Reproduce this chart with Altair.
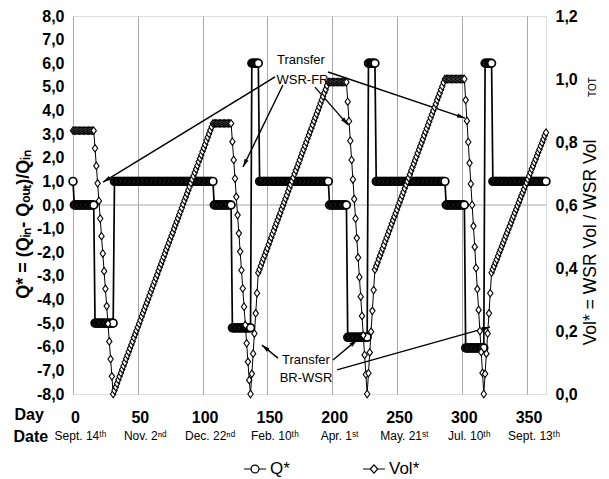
import math
import altair as alt
import pandas as pd

FONT = "Liberation Sans, Arial, sans-serif"

# ---------------- data ----------------
# Q* as runs of (value, number of consecutive days), days 0..365
q_runs = [(1.0, 1), (0.0, 16), (-5.0, 15), (1.0, 77), (0.0, 14), (-5.2, 15), (6.0, 6),
          (1.0, 54), (0.0, 14), (-5.6, 16), (6.0, 6), (1.0, 54), (0.0, 15), (-6.05, 15),
          (6.0, 6), (1.0, 42)]

# Vol* daily values, segment by segment
vol_hold1 = (0.836, 17)
vol_down1 = [0.780, 0.724, 0.669, 0.613, 0.557, 0.501, 0.446, 0.390, 0.334, 0.279, 0.223, 0.167, 0.111, 0.056, 0.000]
vol_up1 = [0.011, 0.022, 0.033, 0.045, 0.056, 0.067, 0.078, 0.089, 0.100, 0.112,
           0.123, 0.134, 0.145, 0.156, 0.167, 0.179, 0.190, 0.201, 0.212, 0.223,
           0.234, 0.246, 0.257, 0.268, 0.279, 0.290, 0.301, 0.312, 0.324, 0.335,
           0.346, 0.357, 0.368, 0.379, 0.391, 0.402, 0.413, 0.424, 0.435, 0.446,
           0.458, 0.469, 0.480, 0.491, 0.502, 0.513, 0.525, 0.536, 0.547, 0.558,
           0.569, 0.580, 0.591, 0.603, 0.614, 0.625, 0.636, 0.647, 0.658, 0.670,
           0.681, 0.692, 0.703, 0.714, 0.725, 0.737, 0.748, 0.759, 0.770, 0.781,
           0.792, 0.804, 0.815, 0.826, 0.837, 0.848, 0.859]
vol_hold2 = (0.859, 14)
vol_down2 = [0.801, 0.743, 0.684, 0.626, 0.568, 0.510, 0.452, 0.393, 0.335, 0.277, 0.219, 0.161, 0.102, 0.044, 0.000]
vol_fill2 = [0.064, 0.128, 0.192, 0.256, 0.320, 0.385]
vol_up2 = [0.396, 0.407, 0.419, 0.430, 0.441, 0.452, 0.463, 0.475, 0.486, 0.497,
           0.508, 0.519, 0.531, 0.542, 0.553, 0.564, 0.575, 0.587, 0.598, 0.609,
           0.620, 0.631, 0.643, 0.654, 0.665, 0.676, 0.687, 0.699, 0.710, 0.721,
           0.732, 0.743, 0.755, 0.766, 0.777, 0.788, 0.799, 0.811, 0.822, 0.833,
           0.844, 0.855, 0.867, 0.878, 0.889, 0.900, 0.911, 0.923, 0.934, 0.945,
           0.956, 0.967, 0.979, 0.990]
vol_hold3 = (0.990, 14)
vol_down3 = [0.928, 0.866, 0.804, 0.743, 0.681, 0.619, 0.557, 0.495, 0.433, 0.371, 0.309, 0.248, 0.186, 0.124, 0.062, 0.000]
vol_fill3 = [0.066, 0.132, 0.198, 0.264, 0.330, 0.395]
vol_up3 = [0.406, 0.417, 0.429, 0.440, 0.451, 0.462, 0.473, 0.485, 0.496, 0.507,
           0.518, 0.529, 0.541, 0.552, 0.563, 0.574, 0.585, 0.597, 0.608, 0.619,
           0.630, 0.641, 0.653, 0.664, 0.675, 0.686, 0.697, 0.709, 0.720, 0.731,
           0.742, 0.753, 0.765, 0.776, 0.787, 0.798, 0.809, 0.821, 0.832, 0.843,
           0.854, 0.865, 0.877, 0.888, 0.899, 0.910, 0.921, 0.933, 0.944, 0.955,
           0.966, 0.977, 0.989, 1.000]
vol_hold4 = (1.000, 15)
vol_down4 = [0.933, 0.867, 0.800, 0.733, 0.667, 0.600, 0.533, 0.467, 0.400, 0.333, 0.267, 0.200, 0.133, 0.067, 0.000]
vol_fill4 = [0.064, 0.128, 0.192, 0.256, 0.320, 0.385]
vol_up4 = [0.396, 0.406, 0.417, 0.427, 0.438, 0.449, 0.459, 0.470, 0.480, 0.491,
           0.502, 0.512, 0.523, 0.533, 0.544, 0.555, 0.565, 0.576, 0.586, 0.597,
           0.608, 0.618, 0.629, 0.639, 0.650, 0.661, 0.671, 0.682, 0.692, 0.703,
           0.714, 0.724, 0.735, 0.745, 0.756, 0.767, 0.777, 0.788, 0.798, 0.809,
           0.820, 0.830]

# axis ticks / labels
day_ticks = [0, 50, 100, 150, 200, 250, 300, 350]
date_labels = ["Sept. 14\u1d57\u02b0", "Nov. 2\u207f\u1d48", "Dec. 22\u207f\u1d48", "Feb. 10\u1d57\u02b0",
               "Apr. 1\u02e2\u1d57", "May. 21\u02e2\u1d57", "Jul. 10\u1d57\u02b0", "Sept. 13\u1d57\u02b0"]
q_ticks = [-8, -7, -6, -5, -4, -3, -2, -1, 0, 1, 2, 3, 4, 5, 6, 7, 8]
v_ticks = [0.0, 0.2, 0.4, 0.6, 0.8, 1.0, 1.2]

# annotations (day, Q*) -- text and arrows
ann_text = ["Transfer", "WSR-FR", "Transfer", "BR-WSR"]
ann_day = [175.9, 177.1, 179.7, 179.8]
ann_q = [6.14, 5.29, -6.56, -7.32]
arr_day1 = [155.9, 162.0, 186.7, 196.8, 158.2, 200.6, 203.7]
arr_q1 = [5.42, 5.08, 4.99, 5.63, -6.48, -6.56, -6.98]
arr_day2 = [23.2, 131.2, 212.2, 302.5, 145.8, 219.2, 321.8]
arr_q2 = [0.97, 1.61, 3.39, 3.68, -5.93, -5.71, -5.16]

legend_names = ["Q*", "Vol*"]

# ---------------- build tables ----------------
q_vals = []
for v, n in q_runs:
    q_vals += [v] * n

vol_vals = ([vol_hold1[0]] * vol_hold1[1] + vol_down1 + vol_up1 +
            [vol_hold2[0]] * vol_hold2[1] + vol_down2 + vol_fill2 + vol_up2 +
            [vol_hold3[0]] * vol_hold3[1] + vol_down3 + vol_fill3 + vol_up3 +
            [vol_hold4[0]] * vol_hold4[1] + vol_down4 + vol_fill4 + vol_up4)
days = list(range(len(q_vals)))
assert len(q_vals) == len(vol_vals) == 366

df = pd.DataFrame({"day": days, "q": q_vals, "vol": vol_vals})

W, H = 473, 378
sx = W / 365.0
sy = H / 16.0

ang = []
for a, b, c, d in zip(arr_day1, arr_q1, arr_day2, arr_q2):
    dxs = (c - a) * sx
    dys = -(d - b) * sy
    ang.append(math.degrees(math.atan2(dxs, -dys)) % 360)

arrows = pd.DataFrame({"day": arr_day1, "q": arr_q1, "day2": arr_day2, "q2": arr_q2})
heads = pd.DataFrame({"day": arr_day2, "q": arr_q2, "angle": ang})
texts = pd.DataFrame({"day": ann_day, "q": ann_q, "label": ann_text})

# ---------------- scales / axes ----------------
x_scale = alt.Scale(domain=[0, 365], nice=False, zero=False)
q_scale = alt.Scale(domain=[-8, 8], nice=False)
v_scale = alt.Scale(domain=[0, 1.2], nice=False)

x_axis = alt.Axis(orient="bottom", values=day_ticks, format="d", grid=True, gridColor="#a8a8a8",
                  gridWidth=1, ticks=False, domain=False, labelPadding=15, labelFontSize=16,
                  labelFontWeight="bold", labelColor="black", labelOverlap=False, labelFlush=False,
                  labelOffset=2,
                  title="Day", titleAngle=0, titleX=-59, titleY=25, titleAlign="left",
                  titleBaseline="alphabetic", titleFontSize=16, titleFontWeight="bold", titleColor="black")

q_label = "(datum.value < 0 ? '-' : '') + replace(format(abs(datum.value), '.1f'), '.', ',')"
q_axis = alt.Axis(orient="left", values=q_ticks, labelExpr=q_label, grid=False, ticks=False, domain=False,
                  labelPadding=9, labelFontSize=16, labelFontWeight="bold", labelColor="black",
                  labelOverlap=False,
                  title="Q* = (Q\u1d62\u2099- Q\u2092\u1d64\u209c)/Q\u1d62\u2099", titleFontSize=18,
                  titleFontWeight="bold", titleColor="black", titleX=-41, titleY=208,
                  titleAngle=270, titleAlign="center", titleBaseline="bottom")

v_label = "replace(format(datum.value, '.1f'), '.', ',')"
v_axis = alt.Axis(orient="right", values=v_ticks, labelExpr=v_label, grid=False, ticks=False, domain=False,
                  labelPadding=9, labelFontSize=16, labelFontWeight="bold", labelColor="black",
                  labelOverlap=False,
                  title="Vol* = WSR Vol / WSR Vol", titleFontSize=17.5, titleFontWeight="normal",
                  titleColor="black", titleX=53, titleY=226, titleAngle=270, titleAlign="center",
                  titleBaseline="bottom")

date_expr = "''"
for t, lab in reversed(list(zip(day_ticks, date_labels))):
    date_expr = f"datum.value == {t} ? '{lab}' : ({date_expr})"

date_axis = alt.Axis(orient="bottom", values=day_ticks, labelExpr=date_expr, grid=False, ticks=False,
                     domain=False, labelPadding=36, labelFontSize=12, labelColor="black",
                     labelOverlap=False, labelBound=False, labelFlush=False, labelOffset=7,
                     title="Date", titleAngle=0, titleX=-60, titleY=47, titleAlign="left",
                     titleBaseline="alphabetic", titleFontSize=16, titleFontWeight="bold", titleColor="black")

X = alt.X("day:Q", scale=x_scale, axis=x_axis)
YQ = alt.Y("q:Q", scale=q_scale, axis=q_axis)
YV = alt.Y("vol:Q", scale=v_scale, axis=v_axis)

zero_rule = alt.Chart(pd.DataFrame({"q": [0.0]})).mark_rule(color="#a8a8a8", strokeWidth=1).encode(y=YQ)
q_line = alt.Chart(df).mark_line(color="black", strokeWidth=1.7).encode(x=X, y=YQ)
q_pts = alt.Chart(df).mark_point(shape="circle", filled=True, fill="white", stroke="black",
                                 strokeWidth=1.7, size=60, opacity=1).encode(x=X, y=YQ)
arr_rules = alt.Chart(arrows).mark_rule(color="black", strokeWidth=1.4).encode(
    x=X, y=YQ, x2="day2:Q", y2="q2:Q")
arr_heads = alt.Chart(heads).mark_point(shape="M0,0L-0.55,2L0.55,2Z", filled=True, color="black",
                                        size=64, opacity=1).encode(
    x=X, y=YQ, angle=alt.Angle("angle:Q", scale=None))
ann = alt.Chart(texts).mark_text(fontSize=13, color="black", font=FONT).encode(x=X, y=YQ, text="label:N")

v_line = alt.Chart(df).mark_line(color="black", strokeWidth=1).encode(x=X, y=YV)
v_pts = alt.Chart(df).mark_point(shape="M0,-1L0.72,0L0,1L-0.72,0Z", filled=True, fill="white",
                                 stroke="black", strokeWidth=1.1, size=55, opacity=1).encode(x=X, y=YV)

q_group = alt.layer(zero_rule, q_line, q_pts, arr_rules, arr_heads, ann)
v_group = alt.layer(v_line, v_pts)
main = alt.layer(q_group, v_group).resolve_scale(y="independent")

date_layer = alt.Chart(pd.DataFrame({"day": day_ticks})).mark_point(opacity=0).encode(
    x=alt.X("day:Q", scale=x_scale, axis=date_axis), y=alt.value(0))

q_sym = "M-1,0L-0.36,0M0.36,0L1,0M-0.36,0A0.36,0.36,0,1,1,0.36,0A0.36,0.36,0,1,1,-0.36,0"
v_sym = "M-1,0L-0.34,0M0.34,0L1,0M-0.34,0L0,-0.38L0.34,0L0,0.38Z"
legend_layer = alt.Chart(pd.DataFrame({"series": legend_names})).mark_point(
    filled=False, color="black", strokeWidth=1.2, size=484, clip=True).encode(
    x=alt.value(-300), y=alt.value(-300),
    shape=alt.Shape("series:N", scale=alt.Scale(domain=legend_names, range=[q_sym, v_sym]),
                    legend=alt.Legend(orient="none", legendX=170, legendY=441, direction="horizontal",
                                      title=None, symbolSize=484, symbolStrokeColor="black",
                                      symbolStrokeWidth=1.2, symbolOpacity=1, labelFontSize=17,
                                      labelFont=FONT, labelColor="black", labelOffset=3,
                                      columnPadding=70, padding=0)))

tot_layer = alt.Chart(pd.DataFrame({"t": ["TOT"]})).mark_text(
    angle=270, fontSize=10, font=FONT, color="black").encode(
    x=alt.value(520), y=alt.value(71), text="t:N")

chart = alt.layer(main, date_layer, legend_layer, tot_layer).resolve_scale(x="independent").properties(
    width=W, height=H,
    autosize=alt.AutoSizeParams(type="none"),
    padding={"left": 65, "top": 8, "right": 55, "bottom": 92},
).configure_view(stroke="#8c8c8c", strokeWidth=1).configure_axis(
    labelFont=FONT, titleFont=FONT).configure_legend(labelFont=FONT).configure(background="white")

chart.save("out.html", embed_options={"renderer": "svg", "actions": False})
